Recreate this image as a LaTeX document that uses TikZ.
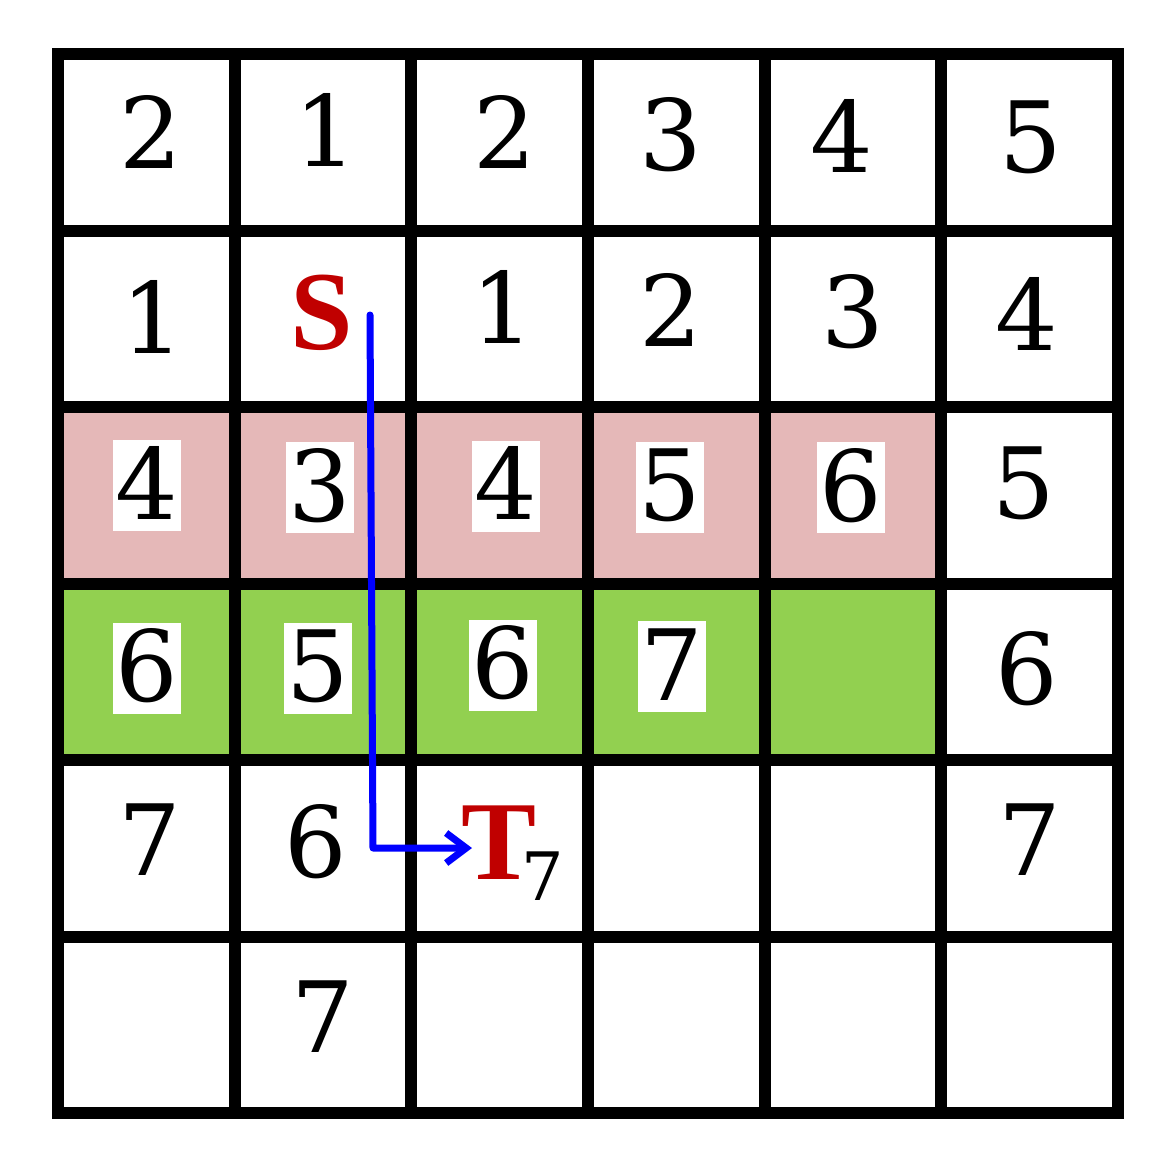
\documentclass[tikz,border=0pt]{standalone}
\usepackage{fontspec}
\usetikzlibrary{arrows.meta}
\newfontfamily\digitfont{DejaVu Serif}
\newfontfamily\letterfont{Liberation Serif}
\definecolor{cellpink}{HTML}{E5B8B8}
\definecolor{cellgreen}{HTML}{92D050}
\definecolor{letterred}{HTML}{C00000}
\tikzstyle{num}=[font=\digitfont\fontsize{28}{32}\selectfont, inner sep=0pt, minimum width=0.68cm, text height=0.79cm, text depth=0.12cm]
\tikzstyle{boxed}=[num, fill=white]
\tikzstyle{letter}=[font=\letterfont\bfseries\fontsize{32}{36}\selectfont, text=letterred, inner sep=0pt, text height=0.745cm, text depth=0pt]
\tikzstyle{subnum}=[font=\digitfont\fontsize{19}{22}\selectfont, inner sep=0pt, text height=0.48cm, text depth=0pt]
\tikzstyle{gridline}=[line width=0.12cm]
\tikzstyle{route}=[draw=blue, line width=0.07cm, line cap=round, line join=round, -{Straight Barb[length=0.2cm,width=0.3cm]}]

\begin{document}
\begin{tikzpicture}
	\useasboundingbox (0,0) rectangle (11.57,-11.51);
	
	\fill[cellpink] (0.58,-4.07) rectangle (9.41,-5.835);
	\fill[cellgreen] (0.58,-5.835) rectangle (9.41,-7.60);
	
	\begin{scope}[shift={(0.58,-11.13)}]
	\draw[gridline] (0,0) grid[xstep=1.7667, ystep=1.765] (10.601,10.591);
	\draw[gridline, line join=miter] (0,0) rectangle (10.6,10.59);
	\end{scope}
	
	\node[num] (r1c1) at (1.51,-1.35) {2};
	\node[num] (r1c2) at (3.26,-1.33) {1};
	\node[num] (r1c3) at (5.05,-1.35) {2};
	\node[num] (r1c4) at (6.71,-1.37) {3};
	\node[num] (r1c5) at (8.42,-1.39) {4};
	\node[num] (r1c6) at (10.31,-1.39) {5};
	
	\node[num] (r2c1) at (1.53,-3.20) {1};
	\node[letter] (s) at (3.22,-3.12) {S};
	\node[num] (r2c3) at (5.03,-3.10) {1};
	\node[num] (r2c4) at (6.71,-3.13) {2};
	\node[num] (r2c5) at (8.53,-3.14) {3};
	\node[num] (r2c6) at (10.27,-3.17) {4};
	
	\node[boxed] (r3c1) at (1.47,-4.855) {4};
	\node[boxed] (r3c2) at (3.20,-4.875) {3};
	\node[boxed] (r3c3) at (5.055,-4.86) {4};
	\node[boxed] (r3c4) at (6.70,-4.87) {5};
	\node[boxed] (r3c5) at (8.51,-4.875) {6};
	\node[num] (r3c6) at (10.24,-4.85) {5};
	
	\node[boxed] (r4c1) at (1.465,-6.68) {6};
	\node[boxed] (r4c2) at (3.18,-6.68) {5};
	\node[boxed] (r4c3) at (5.03,-6.65) {6};
	\node[boxed] (r4c4) at (6.715,-6.665) {7};
	\node[num] (r4c6) at (10.27,-6.71) {6};
	
	\node[num] (r5c1) at (1.50,-8.42) {7};
	\node[num] (r5c2) at (3.16,-8.44) {6};
	\node[letter] (t) at (4.99,-8.42) {T};
	\node[subnum] (tsub) at (5.43,-8.76) {7};
	\node[num] (r5c6) at (10.30,-8.42) {7};
	
	\node[num] (r6c2) at (3.225,-10.185) {7};
	
	\coordinate (start) at (3.70,-3.15);
	\coordinate (bend) at (3.73,-8.48);
	\coordinate (end) at (4.72,-8.48);
	\draw[route] (start) -- (bend) -- (end);
	
\end{tikzpicture}
\end{document}
